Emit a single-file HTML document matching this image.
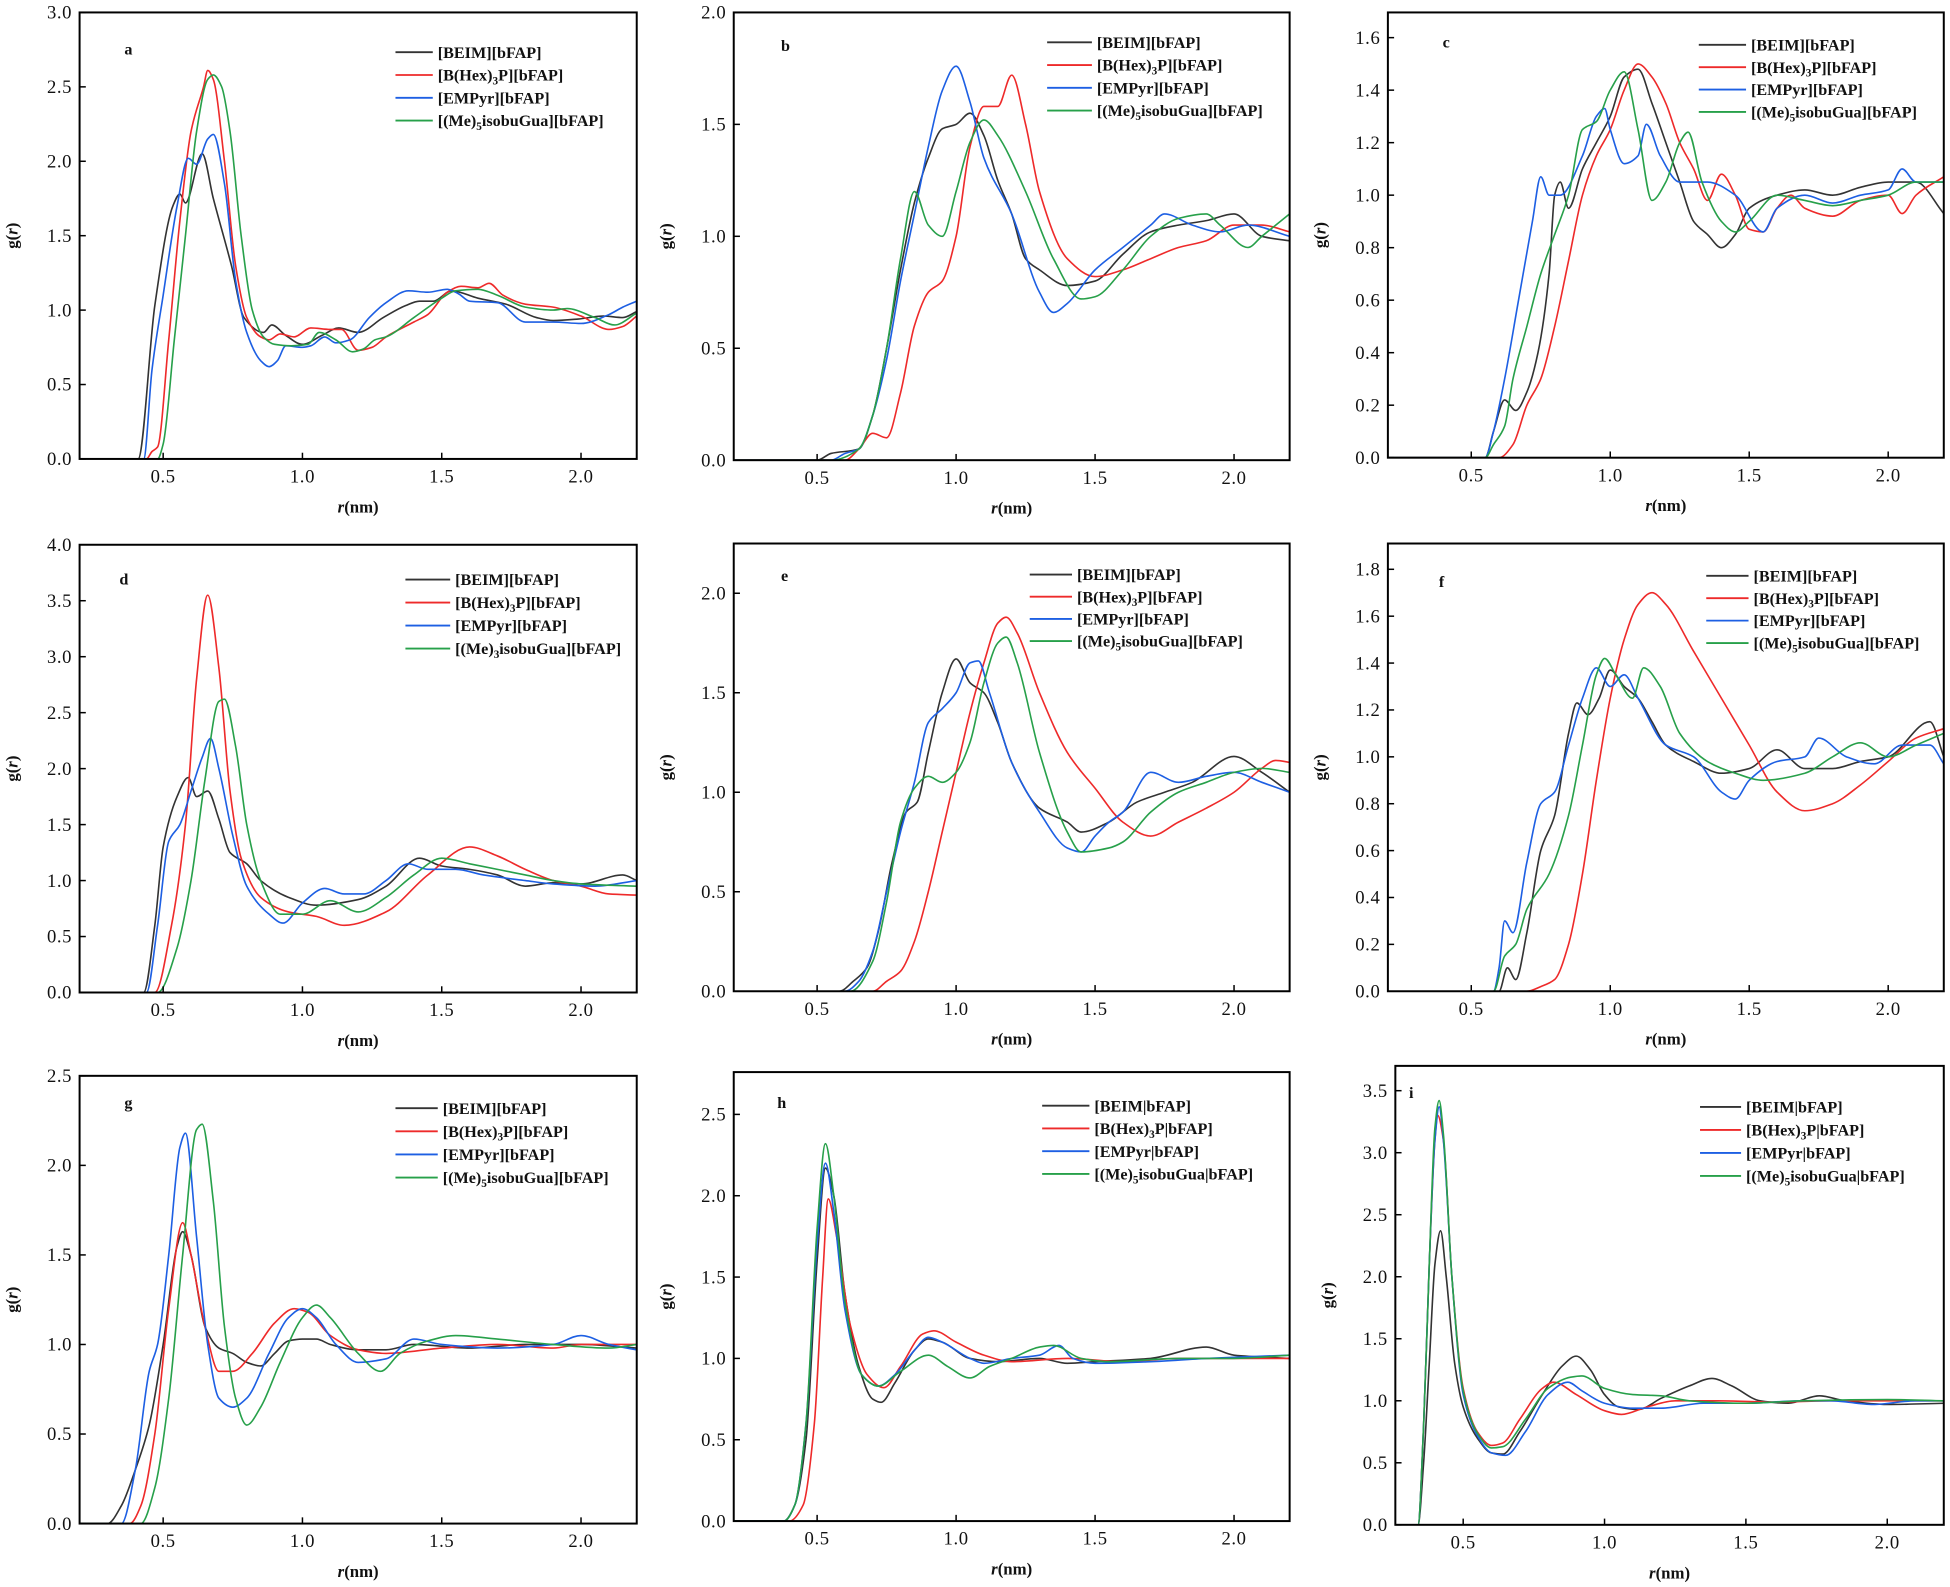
<!DOCTYPE html>
<html><head><meta charset="utf-8"><style>
body{margin:0;background:#fff}
svg{display:block}
.tk{font-family:"Liberation Serif",serif;font-size:15px;fill:#111;letter-spacing:0.5px}
.lg{font-family:"Liberation Serif",serif;font-size:13px;font-weight:bold;fill:#111}
.ax{font-family:"Liberation Serif",serif;font-size:13.5px;font-weight:bold;fill:#111}
</style></head><body>
<svg id="fig" width="1950" height="1587" viewBox="0 0 1568 1276" preserveAspectRatio="none" xmlns="http://www.w3.org/2000/svg"></svg>
<script>
// ---- data: [r (nm), g(r)] ----
const a_k=[[0.2,0],[0.41,0],[0.47,1.03],[0.535,1.7],[0.56,1.78],[0.58,1.72],[0.64,2.05],[0.68,1.75],[0.745,1.3],[0.79,0.95],[0.86,0.85],[0.89,0.9],[0.94,0.83],[1.0,0.77],[1.07,0.83],[1.13,0.88],[1.2,0.85],[1.29,0.95],[1.37,1.03],[1.42,1.06],[1.47,1.06],[1.535,1.13],[1.63,1.08],[1.73,1.04],[1.84,0.95],[1.9,0.93],[1.99,0.94],[2.08,0.96],[2.15,0.95],[2.2,0.99]];
const a_r=[[0.2,0],[0.44,0],[0.46,0.05],[0.48,0.08],[0.52,0.8],[0.56,1.6],[0.6,2.2],[0.645,2.5],[0.66,2.61],[0.68,2.55],[0.72,2.0],[0.76,1.3],[0.8,0.95],[0.85,0.82],[0.88,0.8],[0.92,0.84],[0.97,0.82],[1.03,0.88],[1.1,0.87],[1.14,0.87],[1.2,0.73],[1.25,0.75],[1.3,0.82],[1.4,0.92],[1.45,0.97],[1.52,1.12],[1.57,1.16],[1.63,1.15],[1.67,1.18],[1.72,1.1],[1.8,1.04],[1.9,1.02],[2.0,0.96],[2.1,0.87],[2.15,0.89],[2.2,0.96]];
const a_b=[[0.2,0],[0.43,0],[0.46,0.6],[0.5,1.1],[0.55,1.7],[0.59,2.02],[0.62,1.98],[0.66,2.15],[0.68,2.18],[0.72,1.85],[0.76,1.2],[0.8,0.85],[0.85,0.66],[0.88,0.62],[0.91,0.66],[0.94,0.76],[1.0,0.75],[1.03,0.76],[1.08,0.82],[1.12,0.78],[1.17,0.8],[1.24,0.95],[1.3,1.05],[1.38,1.13],[1.45,1.12],[1.52,1.14],[1.56,1.11],[1.6,1.06],[1.7,1.05],[1.8,0.92],[1.9,0.92],[2.0,0.91],[2.1,0.97],[2.15,1.02],[2.2,1.06]];
const a_g=[[0.2,0],[0.48,0],[0.5,0.1],[0.54,0.8],[0.58,1.5],[0.62,2.2],[0.66,2.55],[0.68,2.58],[0.71,2.5],[0.74,2.2],[0.78,1.5],[0.82,1.0],[0.86,0.82],[0.9,0.77],[0.96,0.76],[1.02,0.77],[1.06,0.85],[1.12,0.8],[1.18,0.72],[1.22,0.74],[1.26,0.8],[1.3,0.82],[1.4,0.95],[1.5,1.08],[1.55,1.13],[1.63,1.14],[1.7,1.1],[1.8,1.02],[1.9,1.0],[1.95,1.01],[2.05,0.95],[2.12,0.9],[2.2,0.98]];
const b_k=[[0.2,0],[0.5,0],[0.55,0.03],[0.65,0.05],[0.7,0.2],[0.75,0.5],[0.8,0.85],[0.85,1.15],[0.9,1.35],[0.95,1.48],[1.0,1.5],[1.05,1.55],[1.1,1.45],[1.15,1.25],[1.2,1.1],[1.25,0.9],[1.3,0.85],[1.4,0.78],[1.5,0.8],[1.6,0.92],[1.7,1.02],[1.8,1.05],[1.9,1.07],[2.0,1.1],[2.1,1.0],[2.2,0.98]];
const b_r=[[0.2,0],[0.6,0],[0.65,0.05],[0.7,0.12],[0.75,0.1],[0.8,0.3],[0.85,0.6],[0.9,0.75],[0.95,0.8],[1.0,1.0],[1.05,1.4],[1.1,1.58],[1.15,1.58],[1.2,1.72],[1.25,1.5],[1.3,1.2],[1.4,0.9],[1.5,0.82],[1.6,0.85],[1.7,0.9],[1.8,0.95],[1.9,0.98],[2.0,1.05],[2.1,1.05],[2.2,1.02]];
const b_b=[[0.2,0],[0.55,0],[0.6,0.03],[0.65,0.05],[0.7,0.2],[0.75,0.45],[0.8,0.8],[0.85,1.1],[0.9,1.4],[0.95,1.65],[1.0,1.76],[1.05,1.6],[1.1,1.35],[1.2,1.1],[1.3,0.75],[1.35,0.66],[1.4,0.7],[1.5,0.85],[1.6,0.95],[1.7,1.05],[1.75,1.1],[1.85,1.05],[1.95,1.02],[2.05,1.05],[2.2,1.0]];
const b_g=[[0.2,0],[0.55,0],[0.65,0.05],[0.7,0.2],[0.75,0.5],[0.8,0.9],[0.85,1.2],[0.9,1.05],[0.95,1.0],[1.0,1.2],[1.05,1.42],[1.1,1.52],[1.15,1.45],[1.25,1.2],[1.35,0.9],[1.45,0.72],[1.5,0.73],[1.6,0.85],[1.7,1.0],[1.8,1.08],[1.9,1.1],[1.95,1.05],[2.05,0.95],[2.1,1.0],[2.2,1.1]];
const c_k=[[0.2,0],[0.55,0],[0.58,0.1],[0.62,0.22],[0.66,0.18],[0.7,0.25],[0.74,0.4],[0.78,0.7],[0.8,1.0],[0.82,1.05],[0.85,0.95],[0.9,1.1],[0.95,1.2],[1.0,1.3],[1.05,1.45],[1.1,1.48],[1.15,1.35],[1.2,1.2],[1.25,1.05],[1.3,0.9],[1.35,0.85],[1.4,0.8],[1.45,0.85],[1.5,0.95],[1.6,1.0],[1.7,1.02],[1.8,1.0],[1.9,1.03],[2.0,1.05],[2.1,1.05],[2.2,0.93]];
const c_r=[[0.2,0],[0.6,0],[0.65,0.05],[0.7,0.2],[0.75,0.3],[0.8,0.5],[0.85,0.75],[0.9,1.0],[0.95,1.15],[1.0,1.25],[1.05,1.4],[1.1,1.5],[1.15,1.45],[1.2,1.35],[1.25,1.2],[1.3,1.1],[1.35,0.98],[1.4,1.08],[1.45,1.0],[1.5,0.87],[1.55,0.86],[1.6,0.95],[1.65,1.0],[1.7,0.95],[1.8,0.92],[1.9,0.98],[2.0,1.0],[2.05,0.93],[2.1,1.0],[2.2,1.07]];
const c_b=[[0.2,0],[0.55,0],[0.58,0.1],[0.62,0.3],[0.67,0.6],[0.72,0.9],[0.75,1.07],[0.78,1.0],[0.82,1.0],[0.9,1.15],[0.95,1.3],[0.98,1.33],[1.0,1.25],[1.05,1.12],[1.1,1.15],[1.13,1.27],[1.18,1.15],[1.25,1.05],[1.35,1.05],[1.45,1.0],[1.55,0.86],[1.6,0.95],[1.7,1.0],[1.8,0.97],[1.9,1.0],[2.0,1.02],[2.05,1.1],[2.1,1.05],[2.2,1.05]];
const c_g=[[0.2,0],[0.55,0],[0.58,0.05],[0.62,0.12],[0.65,0.3],[0.7,0.5],[0.75,0.7],[0.8,0.85],[0.85,1.0],[0.9,1.25],[0.95,1.28],[1.0,1.4],[1.05,1.47],[1.1,1.25],[1.15,0.98],[1.2,1.05],[1.25,1.2],[1.28,1.24],[1.33,1.05],[1.4,0.9],[1.45,0.86],[1.5,0.9],[1.6,1.0],[1.7,0.98],[1.8,0.96],[1.9,0.98],[2.0,1.0],[2.1,1.05],[2.2,1.05]];
const d_k=[[0.2,0],[0.43,0],[0.47,0.6],[0.5,1.3],[0.55,1.75],[0.59,1.92],[0.62,1.75],[0.66,1.8],[0.7,1.55],[0.74,1.25],[0.8,1.15],[0.85,1.0],[0.95,0.85],[1.05,0.78],[1.2,0.83],[1.3,0.95],[1.42,1.2],[1.5,1.13],[1.6,1.1],[1.7,1.05],[1.8,0.95],[1.9,0.98],[2.0,0.97],[2.15,1.05],[2.2,1.0]];
const d_r=[[0.2,0],[0.47,0],[0.53,0.6],[0.58,1.5],[0.62,2.8],[0.66,3.55],[0.7,2.9],[0.74,1.8],[0.78,1.2],[0.85,0.85],[0.95,0.72],[1.05,0.68],[1.15,0.6],[1.3,0.72],[1.45,1.05],[1.6,1.3],[1.7,1.22],[1.8,1.1],[1.9,1.0],[2.0,0.95],[2.1,0.88],[2.2,0.87]];
const d_b=[[0.2,0],[0.44,0],[0.48,0.6],[0.52,1.35],[0.56,1.5],[0.6,1.8],[0.64,2.1],[0.67,2.27],[0.7,2.0],[0.75,1.4],[0.8,0.95],[0.88,0.7],[0.93,0.62],[1.0,0.8],[1.08,0.93],[1.15,0.88],[1.22,0.88],[1.3,1.0],[1.38,1.15],[1.45,1.1],[1.55,1.1],[1.65,1.05],[1.8,1.0],[1.9,0.97],[2.05,0.95],[2.2,1.0]];
const d_g=[[0.2,0],[0.48,0],[0.55,0.4],[0.6,1.0],[0.65,1.9],[0.7,2.6],[0.72,2.62],[0.76,2.2],[0.8,1.5],[0.85,1.0],[0.92,0.7],[1.0,0.7],[1.1,0.82],[1.2,0.72],[1.3,0.85],[1.4,1.05],[1.5,1.2],[1.6,1.15],[1.7,1.1],[1.8,1.05],[1.9,1.0],[2.0,0.97],[2.2,0.95]];
const e_k=[[0.2,0],[0.58,0],[0.63,0.05],[0.68,0.12],[0.72,0.3],[0.77,0.65],[0.82,0.9],[0.86,0.95],[0.9,1.2],[0.95,1.5],[1.0,1.67],[1.05,1.55],[1.1,1.5],[1.15,1.35],[1.2,1.15],[1.3,0.92],[1.4,0.85],[1.45,0.8],[1.55,0.85],[1.65,0.95],[1.75,1.0],[1.85,1.05],[2.0,1.18],[2.1,1.1],[2.2,1.0]];
const e_r=[[0.2,0],[0.7,0],[0.75,0.05],[0.8,0.1],[0.85,0.25],[0.9,0.5],[0.95,0.8],[1.0,1.1],[1.05,1.4],[1.1,1.65],[1.15,1.85],[1.18,1.88],[1.22,1.8],[1.3,1.5],[1.4,1.2],[1.5,1.02],[1.6,0.85],[1.7,0.78],[1.8,0.85],[1.9,0.92],[2.0,1.0],[2.1,1.12],[2.15,1.16],[2.2,1.15]];
const e_b=[[0.2,0],[0.6,0],[0.65,0.05],[0.7,0.2],[0.75,0.5],[0.8,0.8],[0.85,1.05],[0.9,1.35],[0.95,1.42],[1.0,1.5],[1.05,1.65],[1.08,1.66],[1.12,1.5],[1.2,1.15],[1.3,0.9],[1.4,0.72],[1.45,0.7],[1.5,0.78],[1.55,0.85],[1.6,0.9],[1.7,1.1],[1.8,1.05],[1.9,1.08],[2.0,1.1],[2.1,1.05],[2.2,1.0]];
const e_g=[[0.2,0],[0.62,0],[0.7,0.15],[0.75,0.45],[0.8,0.85],[0.85,1.02],[0.9,1.08],[0.95,1.05],[1.0,1.1],[1.05,1.25],[1.1,1.55],[1.15,1.75],[1.18,1.78],[1.22,1.65],[1.3,1.2],[1.4,0.8],[1.45,0.7],[1.55,0.72],[1.6,0.75],[1.7,0.9],[1.8,1.0],[1.9,1.05],[2.0,1.1],[2.1,1.12],[2.2,1.1]];
const f_k=[[0.2,0],[0.6,0],[0.63,0.1],[0.66,0.05],[0.7,0.25],[0.75,0.6],[0.8,0.75],[0.85,1.1],[0.88,1.23],[0.92,1.18],[0.96,1.25],[1.0,1.37],[1.05,1.3],[1.1,1.25],[1.15,1.15],[1.2,1.05],[1.3,0.98],[1.4,0.93],[1.5,0.95],[1.6,1.03],[1.7,0.95],[1.8,0.95],[1.9,0.98],[2.0,1.0],[2.15,1.15],[2.2,1.0]];
const f_r=[[0.2,0],[0.7,0],[0.75,0.02],[0.8,0.05],[0.85,0.2],[0.9,0.5],[0.95,0.9],[1.0,1.25],[1.05,1.5],[1.1,1.65],[1.15,1.7],[1.2,1.65],[1.3,1.45],[1.4,1.25],[1.5,1.05],[1.6,0.85],[1.7,0.77],[1.8,0.8],[1.9,0.88],[2.0,0.98],[2.1,1.08],[2.2,1.12]];
const f_b=[[0.2,0],[0.58,0],[0.6,0.1],[0.62,0.3],[0.65,0.25],[0.7,0.55],[0.75,0.8],[0.8,0.85],[0.85,1.05],[0.9,1.25],[0.95,1.38],[1.0,1.3],[1.05,1.35],[1.1,1.25],[1.2,1.05],[1.3,1.0],[1.4,0.85],[1.45,0.82],[1.5,0.9],[1.6,0.98],[1.7,1.0],[1.75,1.08],[1.85,1.0],[1.95,0.97],[2.05,1.05],[2.15,1.05],[2.2,0.97]];
const f_g=[[0.2,0],[0.58,0],[0.62,0.15],[0.66,0.2],[0.7,0.35],[0.78,0.5],[0.85,0.75],[0.9,1.05],[0.95,1.35],[0.98,1.42],[1.02,1.35],[1.08,1.25],[1.12,1.38],[1.18,1.3],[1.25,1.1],[1.35,0.98],[1.45,0.93],[1.55,0.9],[1.7,0.93],[1.8,1.0],[1.9,1.06],[2.0,1.0],[2.1,1.05],[2.2,1.1]];
const g_k=[[0.2,0],[0.3,0],[0.35,0.1],[0.4,0.3],[0.45,0.55],[0.5,1.0],[0.55,1.55],[0.57,1.63],[0.6,1.5],[0.65,1.1],[0.7,0.98],[0.75,0.95],[0.8,0.9],[0.85,0.88],[0.9,0.95],[0.95,1.02],[1.0,1.03],[1.05,1.03],[1.1,1.0],[1.2,0.97],[1.3,0.97],[1.4,1.0],[1.6,0.98],[1.8,1.0],[2.0,1.0],[2.2,0.98]];
const g_r=[[0.2,0],[0.38,0],[0.42,0.1],[0.47,0.5],[0.52,1.2],[0.57,1.68],[0.6,1.5],[0.65,1.1],[0.7,0.85],[0.75,0.85],[0.82,0.95],[0.9,1.12],[0.97,1.2],[1.02,1.18],[1.1,1.05],[1.2,0.97],[1.3,0.95],[1.5,0.98],[1.7,1.0],[1.9,0.98],[2.0,1.0],[2.2,1.0]];
const g_b=[[0.2,0],[0.35,0],[0.4,0.3],[0.45,0.85],[0.48,1.0],[0.52,1.5],[0.56,2.1],[0.58,2.18],[0.62,1.6],[0.66,1.0],[0.7,0.7],[0.75,0.65],[0.8,0.7],[0.88,0.95],[0.95,1.15],[1.0,1.2],[1.05,1.15],[1.12,1.0],[1.2,0.9],[1.3,0.92],[1.4,1.03],[1.5,1.0],[1.7,0.98],[1.9,1.0],[2.0,1.05],[2.1,1.0],[2.2,0.97]];
const g_g=[[0.2,0],[0.42,0],[0.47,0.2],[0.52,0.7],[0.57,1.5],[0.62,2.2],[0.64,2.23],[0.68,1.8],[0.72,1.1],[0.76,0.7],[0.8,0.55],[0.85,0.65],[0.92,0.9],[1.0,1.15],[1.05,1.22],[1.1,1.15],[1.2,0.95],[1.28,0.85],[1.35,0.95],[1.45,1.02],[1.55,1.05],[1.7,1.03],[1.9,1.0],[2.1,0.98],[2.2,1.0]];
const h_k=[[0.2,0],[0.38,0],[0.42,0.1],[0.46,0.5],[0.5,1.6],[0.53,2.17],[0.56,2.0],[0.6,1.4],[0.65,0.95],[0.7,0.75],[0.73,0.73],[0.78,0.85],[0.85,1.05],[0.9,1.12],[0.95,1.1],[1.05,1.0],[1.15,0.98],[1.3,1.0],[1.4,0.97],[1.5,0.98],[1.7,1.0],[1.9,1.07],[2.0,1.02],[2.2,1.0]];
const h_r=[[0.2,0],[0.4,0],[0.45,0.1],[0.49,0.6],[0.52,1.5],[0.54,1.98],[0.57,1.75],[0.62,1.2],[0.68,0.9],[0.74,0.82],[0.8,0.95],[0.88,1.15],[0.92,1.17],[1.0,1.1],[1.1,1.02],[1.2,0.98],[1.4,1.0],[1.6,0.98],[1.8,1.0],[2.0,1.0],[2.2,1.0]];
const h_b=[[0.2,0],[0.38,0],[0.42,0.1],[0.46,0.6],[0.5,1.7],[0.53,2.2],[0.56,1.9],[0.6,1.3],[0.66,0.9],[0.72,0.83],[0.78,0.9],[0.85,1.05],[0.9,1.13],[0.95,1.1],[1.05,1.0],[1.1,0.97],[1.2,1.0],[1.3,1.02],[1.37,1.08],[1.42,1.0],[1.5,0.97],[1.7,0.98],[1.9,1.0],[2.2,1.02]];
const h_g=[[0.2,0],[0.38,0],[0.42,0.1],[0.46,0.6],[0.5,1.8],[0.53,2.32],[0.56,2.0],[0.6,1.35],[0.66,0.9],[0.72,0.83],[0.8,0.92],[0.9,1.02],[0.97,0.95],[1.05,0.88],[1.12,0.95],[1.2,1.0],[1.3,1.07],[1.35,1.08],[1.45,1.0],[1.55,0.98],[1.8,1.0],[2.0,1.0],[2.2,1.02]];
const i_k=[[0.26,0],[0.34,0],[0.36,0.5],[0.38,1.3],[0.4,2.1],[0.42,2.37],[0.44,2.0],[0.47,1.3],[0.5,0.95],[0.55,0.7],[0.6,0.58],[0.64,0.57],[0.7,0.75],[0.78,1.05],[0.85,1.28],[0.9,1.36],[0.95,1.25],[1.0,1.05],[1.05,0.95],[1.12,0.93],[1.2,1.02],[1.3,1.12],[1.38,1.18],[1.45,1.12],[1.55,1.0],[1.65,0.98],[1.76,1.04],[1.85,1.0],[2.0,0.97],[2.2,0.98]];
const i_r=[[0.26,0],[0.34,0],[0.36,0.8],[0.38,2.1],[0.4,3.1],[0.41,3.3],[0.43,3.1],[0.46,2.0],[0.5,1.1],[0.55,0.75],[0.6,0.64],[0.64,0.66],[0.7,0.85],[0.78,1.1],[0.82,1.15],[0.9,1.05],[1.0,0.92],[1.06,0.89],[1.15,0.95],[1.25,1.0],[1.4,1.0],[1.6,0.99],[1.8,1.0],[2.0,1.0],[2.2,1.0]];
const i_b=[[0.26,0],[0.34,0],[0.36,0.8],[0.38,2.1],[0.4,3.1],[0.415,3.37],[0.43,3.1],[0.46,2.0],[0.5,1.05],[0.55,0.72],[0.6,0.58],[0.65,0.56],[0.72,0.75],[0.8,1.05],[0.87,1.15],[0.92,1.08],[1.0,0.98],[1.1,0.94],[1.2,0.94],[1.35,0.98],[1.5,0.98],[1.7,1.0],[1.8,1.0],[1.95,0.97],[2.1,1.0],[2.2,1.0]];
const i_g=[[0.26,0],[0.34,0],[0.36,0.8],[0.38,2.1],[0.4,3.2],[0.415,3.42],[0.43,3.15],[0.46,2.0],[0.5,1.08],[0.55,0.74],[0.6,0.62],[0.64,0.63],[0.72,0.85],[0.8,1.1],[0.88,1.19],[0.92,1.2],[1.0,1.1],[1.1,1.05],[1.2,1.04],[1.3,1.0],[1.5,0.98],[1.7,1.0],[2.0,1.01],[2.2,1.0]];
const xTicks=[0.5,1.0,1.5,2.0];
const xTickLabels=["0.5","1.0","1.5","2.0"];
const yTicksA=[0,0.5,1,1.5,2,2.5,3];
const yTicksB=[0,0.5,1,1.5,2];
const yTicksC=[0,0.2,0.4,0.6,0.8,1.0,1.2,1.4,1.6];
const yTicksD=[0,0.5,1,1.5,2,2.5,3,3.5,4];
const yTicksF=[0,0.2,0.4,0.6,0.8,1.0,1.2,1.4,1.6,1.8];
const yTicksG=[0,0.5,1,1.5,2,2.5];
const yTicksI=[0,0.5,1,1.5,2,2.5,3,3.5];
const namesBr=["[BEIM][bFAP]","[B(Hex)|3|P][bFAP]","[EMPyr][bFAP]","[(Me)|5|isobuGua][bFAP]"];
const namesBr3=["[BEIM][bFAP]","[B(Hex)|3|P][bFAP]","[EMPyr][bFAP]","[(Me)|3|isobuGua][bFAP]"];
const namesBar=["[BEIM|bFAP]","[B(Hex)|3|P|bFAP]","[EMPyr|bFAP]","[(Me)|5|isobuGua|bFAP]"];

const COLORS=["#333333","#ee2a2a","#1d5fe3","#27a04a"];
const NS="http://www.w3.org/2000/svg";
const svg=document.getElementById('fig');
function mk(tag,attrs,parent){const e=document.createElementNS(NS,tag);for(const k in attrs)e.setAttribute(k,attrs[k]);(parent||svg).appendChild(e);return e;}

const panels=[
 {id:'a',L:64,T:10,R:512,B:369,x0:0.2,x1:2.2,ymax:3.0,yt:yTicksA,s:[a_k,a_r,a_b,a_g],names:namesBr,lx:318,lt:352,ly:42,dy:18.3,px:100,py:44},
 {id:'b',L:590,T:10,R:1037,B:370,x0:0.2,x1:2.2,ymax:2.0,yt:yTicksB,s:[b_k,b_r,b_b,b_g],names:namesBr,lx:842,lt:882,ly:34,dy:18.3,px:628,py:41},
 {id:'c',L:1116,T:10,R:1563,B:368,x0:0.2,x1:2.2,ymax:1.696,yt:yTicksC,s:[c_k,c_r,c_b,c_g],names:namesBr,lx:1366,lt:1408,ly:36,dy:18,px:1160,py:38},
 {id:'d',L:64,T:438,R:512,B:798,x0:0.2,x1:2.2,ymax:4.0,yt:yTicksD,s:[d_k,d_r,d_b,d_g],names:namesBr3,lx:326,lt:366,ly:466,dy:18.5,px:96,py:470},
 {id:'e',L:590,T:437,R:1037,B:797,x0:0.2,x1:2.2,ymax:2.25,yt:yTicksB,s:[e_k,e_r,e_b,e_g],names:namesBr,lx:828,lt:866,ly:462,dy:17.8,px:628,py:467},
 {id:'f',L:1116,T:437,R:1563,B:797,x0:0.2,x1:2.2,ymax:1.91,yt:yTicksF,s:[f_k,f_r,f_b,f_g],names:namesBr,lx:1372,lt:1410,ly:463,dy:18,px:1157,py:472},
 {id:'g',L:64,T:865,R:512,B:1225,x0:0.2,x1:2.2,ymax:2.5,yt:yTicksG,s:[g_k,g_r,g_b,g_g],names:namesBr,lx:318,lt:356,ly:891,dy:18.6,px:100,py:891},
 {id:'h',L:590,T:862,R:1037,B:1223,x0:0.2,x1:2.2,ymax:2.76,yt:yTicksG,s:[h_k,h_r,h_b,h_g],names:namesBar,lx:838,lt:880,ly:889,dy:18.3,px:625,py:891},
 {id:'i',L:1122,T:857,R:1563,B:1226,x0:0.26,x1:2.2,ymax:3.7,yt:yTicksI,s:[i_k,i_r,i_b,i_g],names:namesBar,lx:1367,lt:1404,ly:890,dy:18.5,px:1133,py:883}
];
const serNames=['beim','bhex3p','empyr','me5isobugua'];

// monotone cubic (Fritsch-Carlson) in pixel space
function monoPath(pts){
  const n=pts.length;
  const dx=[],dy=[],m=[];
  for(let i=0;i<n-1;i++){dx.push(pts[i+1][0]-pts[i][0]);dy.push(pts[i+1][1]-pts[i][1]);m.push(dy[i]/dx[i]);}
  const t=[m[0]];
  for(let i=1;i<n-1;i++){
    if(m[i-1]*m[i]<=0)t.push(0);
    else{const w1=2*dx[i]+dx[i-1],w2=dx[i]+2*dx[i-1];t.push((w1+w2)/(w1/m[i-1]+w2/m[i]));}
  }
  t.push(m[n-2]);
  let d='M'+pts[0][0].toFixed(2)+','+pts[0][1].toFixed(2);
  for(let i=0;i<n-1;i++){
    const h=dx[i]/3;
    d+=' C'+(pts[i][0]+h).toFixed(2)+','+(pts[i][1]+t[i]*h).toFixed(2)+' '+(pts[i+1][0]-h).toFixed(2)+','+(pts[i+1][1]-t[i+1]*h).toFixed(2)+' '+pts[i+1][0].toFixed(2)+','+pts[i+1][1].toFixed(2);
  }
  return d;
}

panels.forEach(p=>{
  const g=mk('g',{});
  
  
  const xs=r=>p.L+(r-p.x0)/(p.x1-p.x0)*(p.R-p.L);
  const ys=v=>p.B-v/p.ymax*(p.B-p.T);
  const cid='clip'+p.id;
  const cp=mk('clipPath',{id:cid},g);mk('rect',{x:p.L,y:p.T,width:p.R-p.L,height:p.B-p.T},cp);
  p.s.forEach((ser,si)=>{
    const pts=ser.map(q=>[xs(q[0]),ys(q[1])]);
    const path=mk('path',{d:monoPath(pts),fill:'none',stroke:COLORS[si],'stroke-width':1.3,'clip-path':'url(#'+cid+')','stroke-linejoin':'round'},g);
    
    
  });
  const fr=mk('rect',{x:p.L,y:p.T,width:p.R-p.L,height:p.B-p.T,fill:'none',stroke:'#000','stroke-width':1.6},g);
  
  
  xTicks.forEach((t,ti)=>{
    const x=xs(t);
    mk('line',{x1:x,y1:p.B,x2:x,y2:p.B-5,stroke:'#000','stroke-width':1.2},g);
    const tx=mk('text',{x:x,y:p.B+19,'text-anchor':'middle',class:'tk'},g);
    tx.textContent=xTickLabels[ti];
    
    
  });
  p.yt.forEach(t=>{
    const y=ys(t);
    mk('line',{x1:p.L,y1:y,x2:p.L+5,y2:y,stroke:'#000','stroke-width':1.2},g);
    const ty=mk('text',{x:p.L-6,y:y+5,'text-anchor':'end',class:'tk'},g);
    ty.textContent=t.toFixed(1);
    
    
  });
  const xt=mk('text',{x:(p.L+p.R)/2,y:p.B+43,'text-anchor':'middle',class:'ax'},g);
  xt.innerHTML='<tspan font-style="italic">r</tspan>(nm)';
  
  
  const yc=(p.T+p.B)/2;
  const yt=mk('text',{x:p.L-50,y:yc,'text-anchor':'middle',class:'ax',transform:'rotate(-90 '+(p.L-50)+' '+yc+')'},g);
  yt.innerHTML='g(<tspan font-style="italic">r</tspan>)';
  
  
  const pl=mk('text',{x:p.px,y:p.py,class:'lg'},g);
  pl.textContent=p.id;
  
  
  p.names.forEach((nm,ni)=>{
    const y=p.ly+ni*p.dy;
    const lg=mk('g',{},g);
    
    
    mk('line',{x1:p.lx,y1:y,x2:p.lt-4,y2:y,stroke:COLORS[ni],'stroke-width':1.5},lg);
    const t=mk('text',{x:p.lt,y:y+4.5,class:'lg'},lg);
    const parts=nm.split('|');
    if(parts.length===3&&/^\d$/.test(parts[1])){
      t.innerHTML=parts[0]+'<tspan font-size="9" dy="3">'+parts[1]+'</tspan><tspan dy="-3">'+parts[2]+'</tspan>';
    } else if(parts.length===4){
      t.innerHTML=parts[0]+'<tspan font-size="9" dy="3">'+parts[1]+'</tspan><tspan dy="-3">'+parts[2]+'|'+parts[3]+'</tspan>';
    } else t.textContent=nm;
  });
});
</script>
</body></html>
